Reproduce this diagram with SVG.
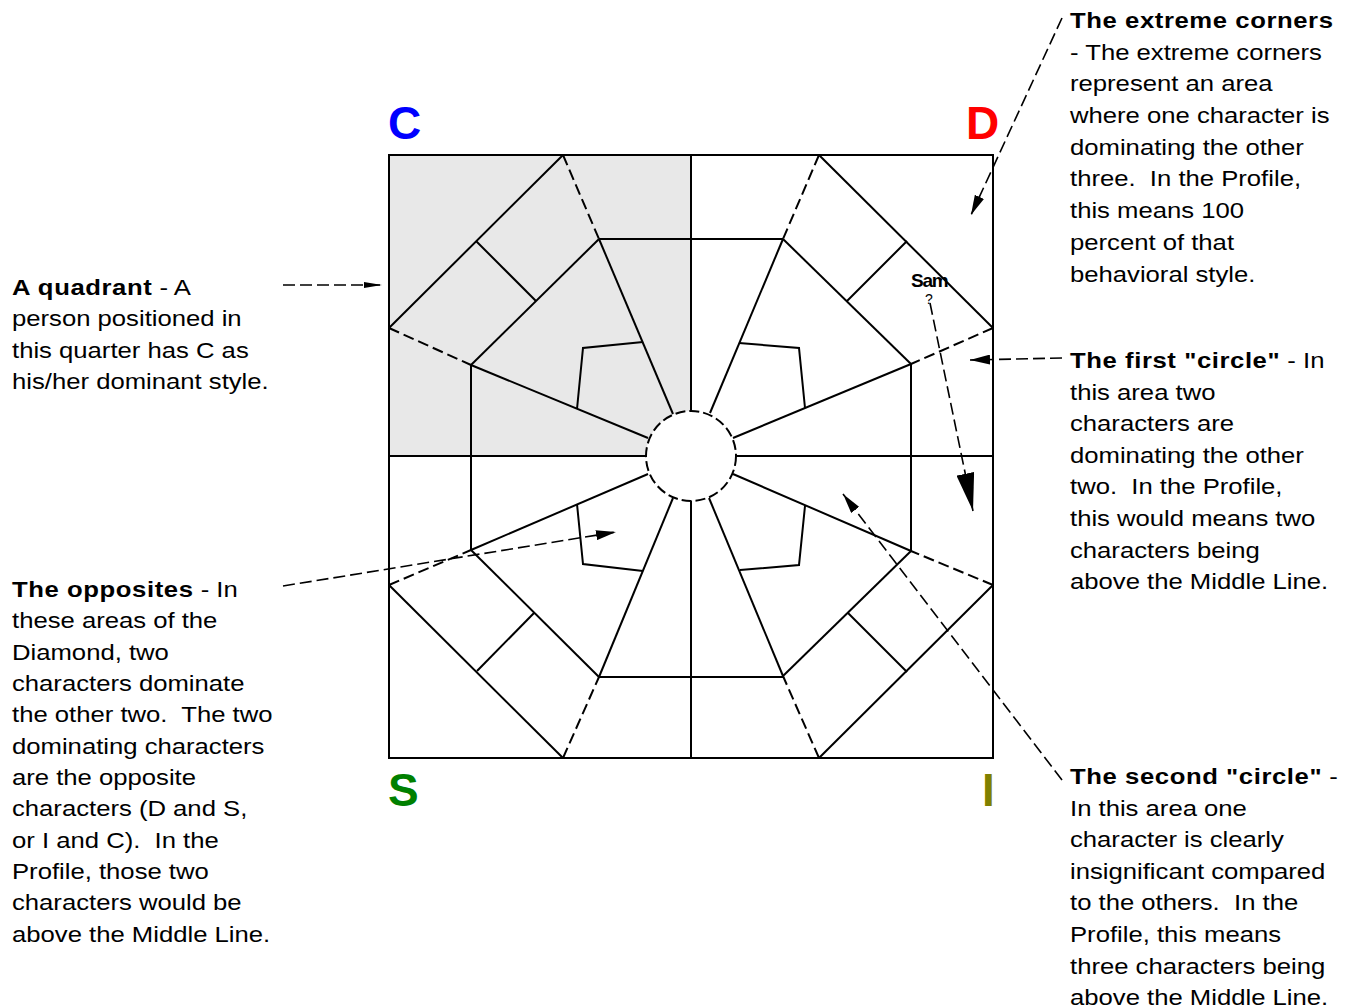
<svg xmlns="http://www.w3.org/2000/svg" width="1348" height="1007" viewBox="0 0 1348 1007">
<style>
.ln{stroke:#000;stroke-width:2;fill:none;stroke-linecap:butt}
.ds{stroke:#000;stroke-width:2;fill:none;stroke-dasharray:11 5}
.ar{stroke:#000;stroke-width:1.6;fill:none;stroke-dasharray:12 5}
.t{font-family:"Liberation Sans",Arial,sans-serif;font-size:22px;fill:#000;white-space:pre}
.b{font-weight:bold;letter-spacing:0.5px}
.lbl{font-family:"Liberation Sans",Arial,sans-serif;font-size:46px;font-weight:bold}
</style>
<defs>
<marker id="ah" viewBox="0 0 20 10" refX="20" refY="5" markerWidth="20" markerHeight="10" orient="auto" markerUnits="userSpaceOnUse"><path d="M0,0 L20,5 L0,10 Z" fill="#000"/></marker>
<marker id="ahs" viewBox="0 0 18 6" refX="18" refY="3" markerWidth="18" markerHeight="6" orient="auto" markerUnits="userSpaceOnUse"><path d="M0,0 L18,3 L0,6 Z" fill="#000"/></marker>
<marker id="ahb" viewBox="0 0 38 18" refX="38" refY="9" markerWidth="38" markerHeight="18" orient="auto" markerUnits="userSpaceOnUse"><path d="M0,0 L38,9 L0,18 Z" fill="#000"/></marker>
</defs>
<rect width="1348" height="1007" fill="#fff"/>

<g id="diamond">
<rect x="389" y="155" width="302" height="301" fill="#e8e8e8"/>
<rect x="389" y="155" width="604" height="603" class="ln"/>
<line x1="691" y1="155" x2="691" y2="411" class="ln"/>
<line x1="691" y1="501" x2="691" y2="758" class="ln"/>
<line x1="389" y1="456" x2="646" y2="456" class="ln"/>
<line x1="736" y1="456" x2="993" y2="456" class="ln"/>
<line x1="599" y1="239" x2="783" y2="239" class="ln"/>
<line x1="599" y1="677" x2="783" y2="677" class="ln"/>
<line x1="471" y1="365" x2="471" y2="550" class="ln"/>
<line x1="911" y1="364" x2="911" y2="551" class="ln"/>
</g>

<g id="quadrant-c">
<line x1="563" y1="155" x2="389" y2="328" class="ln"/>
<line x1="563" y1="155" x2="599" y2="239" class="ds"/>
<line x1="389" y1="328" x2="471" y2="365" class="ds"/>
<line x1="599" y1="239" x2="673" y2="414" class="ln"/>
<line x1="471" y1="365" x2="648" y2="438" class="ln"/>
<line x1="599" y1="239" x2="471" y2="365" class="ln"/>
<line x1="476" y1="241" x2="536" y2="301" class="ln"/>
<polyline points="577,409 583,348 643,342" class="ln"/>
</g>

<g id="quadrant-d">
<line x1="819" y1="155" x2="993" y2="328" class="ln"/>
<line x1="819" y1="155" x2="783" y2="239" class="ds"/>
<line x1="993" y1="328" x2="911" y2="364" class="ds"/>
<line x1="783" y1="239" x2="710" y2="413" class="ln"/>
<line x1="911" y1="364" x2="733" y2="438" class="ln"/>
<line x1="783" y1="239" x2="911" y2="364" class="ln"/>
<line x1="907" y1="241" x2="847" y2="301" class="ln"/>
<polyline points="739,343 799,348 805,408" class="ln"/>
</g>

<g id="quadrant-s">
<line x1="389" y1="585" x2="563" y2="758" class="ln"/>
<line x1="389" y1="585" x2="471" y2="550" class="ds"/>
<line x1="563" y1="758" x2="599" y2="677" class="ds"/>
<line x1="471" y1="550" x2="648" y2="474" class="ln"/>
<line x1="599" y1="677" x2="673" y2="498" class="ln"/>
<line x1="471" y1="550" x2="599" y2="677" class="ln"/>
<line x1="477" y1="671" x2="534" y2="613" class="ln"/>
<polyline points="577,504 583,564 643,571" class="ln"/>
</g>

<g id="quadrant-i">
<line x1="819" y1="758" x2="993" y2="585" class="ln"/>
<line x1="993" y1="585" x2="911" y2="551" class="ds"/>
<line x1="819" y1="758" x2="783" y2="676" class="ds"/>
<line x1="911" y1="551" x2="733" y2="474" class="ln"/>
<line x1="783" y1="676" x2="709" y2="498" class="ln"/>
<line x1="911" y1="551" x2="783" y2="676" class="ln"/>
<line x1="848" y1="613" x2="907" y2="672" class="ln"/>
<polyline points="805,506 799,565 740,570" class="ln"/>
</g>

<g id="center-circle">
<circle cx="691" cy="456" r="45" fill="#fff" stroke="#000" stroke-width="2" stroke-dasharray="10 4"/>
</g>

<g id="corner-labels">
<text x="388" y="139" class="lbl" fill="#0000ff">C</text>
<text x="966" y="139" class="lbl" fill="#ff0000">D</text>
<text x="388" y="806" class="lbl" fill="#008000">S</text>
<text x="982" y="806" class="lbl" fill="#808000">I</text>
</g>

<g id="sam">
<text x="911" y="287" font-family="Liberation Sans, Arial, sans-serif" font-size="19" font-weight="bold" letter-spacing="-1.2">Sam</text>
<text x="925" y="304" font-family="Liberation Sans, Arial, sans-serif" font-size="14">?</text>
</g>

<g id="connectors">
<line x1="283" y1="285" x2="382" y2="285" class="ar" marker-end="url(#ahs)"/>
<line x1="1062" y1="18" x2="971" y2="215" class="ar" marker-end="url(#ah)"/>
<line x1="1062" y1="358" x2="970" y2="360" class="ar" marker-end="url(#ah)"/>
<line x1="283" y1="586" x2="616" y2="532" class="ar" marker-end="url(#ah)"/>
<line x1="1062" y1="780" x2="843" y2="494" class="ar" marker-end="url(#ah)"/>
<line x1="930" y1="303" x2="973" y2="511" class="ar" marker-end="url(#ahb)"/>
</g>

<g id="note-quadrant" transform="translate(12 0) scale(1.167 1)">
<text class="t" x="0" y="295"><tspan class="b">A quadrant</tspan> - A</text>
<text class="t" x="0" y="326.5">person positioned in</text>
<text class="t" x="0" y="358">this quarter has C as</text>
<text class="t" x="0" y="389.5">his/her dominant style.</text>
</g>

<g id="note-opposites" transform="translate(12 0) scale(1.167 1)">
<text class="t" x="0" y="597"><tspan class="b">The opposites</tspan> - In</text>
<text class="t" x="0" y="628.4">these areas of the</text>
<text class="t" x="0" y="659.7">Diamond, two</text>
<text class="t" x="0" y="691.1">characters dominate</text>
<text class="t" x="0" y="722.4">the other two.  The two</text>
<text class="t" x="0" y="753.8">dominating characters</text>
<text class="t" x="0" y="785.1">are the opposite</text>
<text class="t" x="0" y="816.5">characters (D and S,</text>
<text class="t" x="0" y="847.8">or I and C).  In the</text>
<text class="t" x="0" y="879.2">Profile, those two</text>
<text class="t" x="0" y="910.5">characters would be</text>
<text class="t" x="0" y="941.9">above the Middle Line.</text>
</g>

<g id="note-extreme" transform="translate(1070 0) scale(1.167 1)">
<text class="t b" x="0" y="28">The extreme corners</text>
<text class="t" x="0" y="59.7">- The extreme corners</text>
<text class="t" x="0" y="91.4">represent an area</text>
<text class="t" x="0" y="123.1">where one character is</text>
<text class="t" x="0" y="154.8">dominating the other</text>
<text class="t" x="0" y="186.5">three.  In the Profile,</text>
<text class="t" x="0" y="218.2">this means 100</text>
<text class="t" x="0" y="249.9">percent of that</text>
<text class="t" x="0" y="281.6">behavioral style.</text>
</g>

<g id="note-first" transform="translate(1070 0) scale(1.167 1)">
<text class="t" x="0" y="368"><tspan class="b">The first &quot;circle&quot;</tspan> - In</text>
<text class="t" x="0" y="399.6">this area two</text>
<text class="t" x="0" y="431.2">characters are</text>
<text class="t" x="0" y="462.8">dominating the other</text>
<text class="t" x="0" y="494.4">two.  In the Profile,</text>
<text class="t" x="0" y="526">this would means two</text>
<text class="t" x="0" y="557.6">characters being</text>
<text class="t" x="0" y="589.2">above the Middle Line.</text>
</g>

<g id="note-second" transform="translate(1070 0) scale(1.167 1)">
<text class="t" x="0" y="784"><tspan class="b">The second &quot;circle&quot;</tspan> -</text>
<text class="t" x="0" y="815.6">In this area one</text>
<text class="t" x="0" y="847.2">character is clearly</text>
<text class="t" x="0" y="878.8">insignificant compared</text>
<text class="t" x="0" y="910.4">to the others.  In the</text>
<text class="t" x="0" y="942">Profile, this means</text>
<text class="t" x="0" y="973.6">three characters being</text>
<text class="t" x="0" y="1005.2">above the Middle Line.</text>
</g>
</svg>
